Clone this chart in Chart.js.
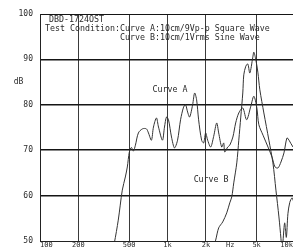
<!DOCTYPE html>
<html>
<head>
<meta charset="utf-8">
<script src="https://cdn.jsdelivr.net/npm/chart.js@4/dist/chart.umd.min.js"></script>
<style>
    html, body { margin: 0; padding: 0; background: #fff; overflow: hidden; }
    #wrap { width: 300px; height: 249px; }
</style>
</head>
<body>
<div id="wrap"><canvas id="resp" width="300" height="249"></canvas></div>
<script>
// --- DATA ---
const freqA = [370, 383, 411, 442, 467, 484, 502, 521, 540, 560, 591, 636, 683, 709, 748, 776, 819, 850, 913, 947,
    982, 1018, 1075, 1135, 1199, 1266, 1337, 1386, 1438, 1491, 1574, 1632, 1692, 1754, 1852, 1921, 1992, 2065, 2181,
    2300, 2431, 2521, 2662, 2760, 2811, 2967, 3078, 3257, 3425, 3624, 3895, 4173, 4504, 4755, 5021, 5207, 5615, 6140,
    6600, 6975, 7360, 7760, 8192, 8650, 8980, 9650, 10000];
const dbA = [48, 49.6, 54.6, 61.2, 64.1, 66.3, 69.6, 70.6, 69.8, 71.1, 73.8, 74.7, 74.7, 73.8, 72.2, 75.1, 77.1, 75.1, 72.2, 75.1,
    77.3, 76.7, 72.9, 70.5, 72.2, 76.7, 79.5, 80.0, 78.4, 77.3, 80.0, 82.6, 81.1, 76.7, 72.2, 71.6, 73.8, 72.2, 70.7,
    73.0, 76.0, 73.8, 70.7, 71.6, 69.6, 70.7, 71.1, 72.9, 76.0, 78.2, 79.3, 76.7, 79.7, 81.9, 79.3, 75.6, 73.3, 70.7,
    68.5, 66.3, 66.1, 67.4, 69.4, 72.7, 72.2, 70.7, 70.5];

const freqB = [2262, 2387, 2521, 2711, 2915, 3078, 3191, 3309, 3495, 3624, 3756, 3895, 3966, 4113, 4265, 4422, 4669, 4755,
    4930, 5112, 5301, 5700, 6242, 6712, 7087, 7482, 7760, 7900, 8050, 8300, 8550, 8800, 9100, 9500, 9900];
const dbB = [48, 50.2, 52.9, 54.2, 56.2, 58.4, 59.7, 62.8, 67.2, 72.2, 77.3, 82.6, 86.6, 88.5, 89.0, 87.0, 90.5, 91.6,
    89.9, 87.2, 83.3, 78.2, 72.2, 67.2, 61.2, 55.3, 50.5, 48, 50, 54, 50.8, 56, 58.5, 59.5, 58];

const freqTicks = [100, 200, 500, 1000, 2000, 3100, 5000, 10000];
const freqTickLabels = ['   100', '200', '500', '1k', '2k', 'Hz', '5k', '10k    '];
const freqGrid = [100, 200, 500, 1000, 2000, 5000, 10000];

const dbTicks = [50, 55, 60, 65, 70, 75, 80, 85, 90, 95, 100];
const dbTickLabels = ['50', '', '60', '', '70', '', '80', 'dB  ', '90', '', '100'];
const dbGrid = [50, 60, 70, 80, 90, 100];

const headerLines = ['DBD-1724OST', 'Test Condition:Curve A:10cm/9Vp-p Square Wave', '               Curve B:10cm/1Vrms Sine Wave'];
const curveLabels = [
    { text: 'Curve A', f: 762, db: 83.3 },
    { text: 'Curve B', f: 1603, db: 63.4 },
];

const MONO = '"DejaVu Sans Mono", "Liberation Mono", monospace';
const INK = '#2a2a2a';

// --- text printed inside the plot ---
const printedText = {
    id: 'printedText',
    afterDatasetsDraw(chart) {
        const { ctx, chartArea, scales } = chart;
        ctx.save();
        ctx.fillStyle = INK;
        ctx.font = '8.3px ' + MONO;
        ctx.textBaseline = 'middle';
        ctx.textAlign = 'left';
        ctx.fillText(headerLines[0], chartArea.left + 9, chartArea.top + 6);
        ctx.fillText(headerLines[1], chartArea.left + 5, chartArea.top + 15);
        ctx.fillText(headerLines[2], chartArea.left + 5, chartArea.top + 24);
        curveLabels.forEach(l => {
            ctx.fillText(l.text, scales.x.getPixelForValue(l.f), scales.y.getPixelForValue(l.db));
        });
        ctx.restore();
    }
};

const toPoints = (xs, ys) => xs.map((x, i) => ({ x: x, y: ys[i] }));

new Chart(document.getElementById('resp'), {
    type: 'line',
    data: {
        datasets: [
            { label: 'Curve A', data: toPoints(freqA, dbA), borderColor: '#333', borderWidth: 1, pointRadius: 0, tension: 0.3 },
            { label: 'Curve B', data: toPoints(freqB, dbB), borderColor: '#333', borderWidth: 1, pointRadius: 0, tension: 0.3 },
        ]
    },
    options: {
        responsive: false,
        devicePixelRatio: 1,
        animation: false,
        layout: { padding: { top: 14, right: 5, bottom: 0, left: 0 } },
        plugins: { legend: { display: false }, tooltip: { enabled: false } },
        scales: {
            x: {
                type: 'logarithmic',
                min: 100,
                max: 10000,
                afterBuildTicks: s => { s.ticks = freqTicks.map(v => ({ value: v })); },
                afterFit: s => { s.height = 8; s.paddingLeft = 0; s.paddingRight = 0; },
                ticks: {
                    autoSkip: false,
                    maxRotation: 0,
                    padding: 0,
                    color: INK,
                    font: { family: MONO, size: 7 },
                    callback: (v, i) => freqTickLabels[i],
                },
                grid: {
                    drawTicks: false,
                    color: c => freqGrid.includes(c.tick.value) ? '#3a3a3a' : 'rgba(0,0,0,0)',
                    lineWidth: 1,
                },
                border: { display: true, color: '#222', width: 1 },
            },
            y: {
                min: 50,
                max: 100,
                afterBuildTicks: s => { s.ticks = dbTicks.map(v => ({ value: v })); },
                afterFit: s => { s.width = 40; s.paddingTop = 0; s.paddingBottom = 0; },
                ticks: {
                    autoSkip: false,
                    padding: 7,
                    color: INK,
                    font: { family: MONO, size: 8 },
                    callback: (v, i) => dbTickLabels[i],
                },
                grid: {
                    drawTicks: false,
                    color: c => dbGrid.includes(c.tick.value) ? '#151515' : 'rgba(0,0,0,0)',
                    lineWidth: c => (c.tick.value === 50 || c.tick.value === 100) ? 1 : 1.5,
                },
                border: { display: true, color: '#222', width: 1 },
            }
        }
    },
    plugins: [printedText]
});
</script>
</body>
</html>
